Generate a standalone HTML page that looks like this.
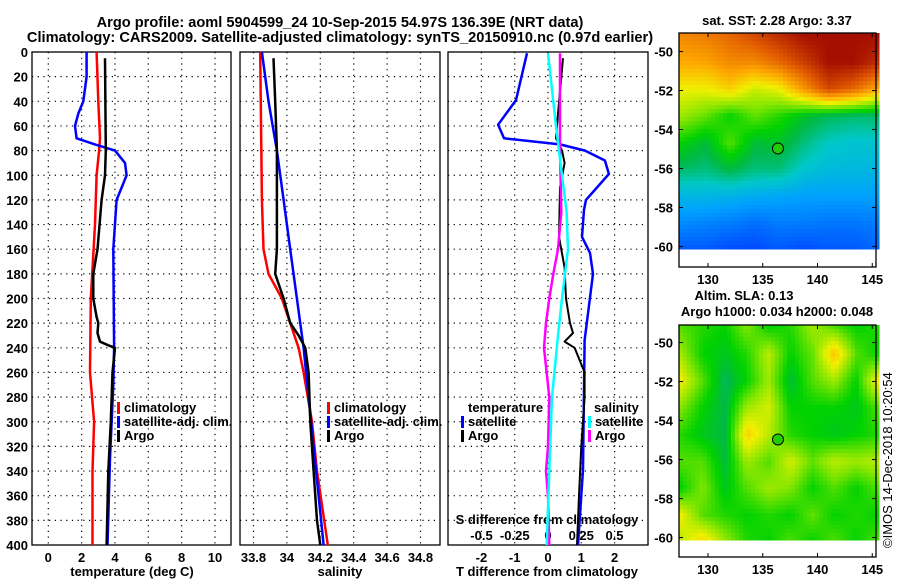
<!DOCTYPE html>
<html><head><meta charset="utf-8">
<style>
body{margin:0;background:#fff;}
svg{display:block;font-family:"Liberation Sans",sans-serif;}
.t{font-weight:bold;font-size:13px;fill:#000;}
.ttl{font-weight:bold;font-size:14.6px;fill:#000;}
</style></head>
<body>
<svg id="fig" width="900" height="580" viewBox="0 0 900 580" xmlns="http://www.w3.org/2000/svg">
<text class="ttl" x="340" y="27" text-anchor="middle">Argo profile: aoml 5904599_24 10-Sep-2015 54.97S 136.39E (NRT data)</text>
<text class="ttl" x="340" y="42" text-anchor="middle">Climatology: CARS2009. Satellite-adjusted climatology: synTS_20150910.nc (0.97d earlier)</text>
<text class="t" x="777" y="25" text-anchor="middle">sat. SST: 2.28 Argo: 3.37</text>
<text class="t" x="744" y="300" text-anchor="middle">Altim. SLA: 0.13</text>
<text class="t" x="777" y="316" text-anchor="middle">Argo h1000: 0.034 h2000: 0.048</text>
<text x="892" y="548" font-size="13" transform="rotate(-90 892 548)">©IMOS 14-Dec-2018 10:20:54</text>
<g id="g"></g>
</svg>
<script>
// ---- depth levels & profile data ----
const tempClimDepth=[0,40,70,80,100,140,200,260,300,340,400];
const tempClim=[2.9,3.0,3.1,3.05,2.9,2.8,2.55,2.5,2.75,2.65,2.65];
const tempSatDepth=[0,20,40,50,60,70,75,80,90,100,110,120,160,240,270,330,400];
const tempSat=[2.3,2.3,2.1,1.8,1.6,1.7,2.8,4.0,4.6,4.7,4.4,4.1,3.9,3.95,3.9,3.7,3.55];
const tempArgoDepth=[5,80,100,120,160,180,200,215,220,228,235,238,240,260,300,340,400];
const tempArgo=[3.4,3.45,3.4,3.2,2.95,2.7,2.7,2.9,3.0,2.95,3.1,3.6,4.0,3.85,3.75,3.6,3.5];
const salClimDepth=[0,120,160,180,200,220,240,260,300,340,400];
const salClim=[33.84,33.85,33.86,33.89,33.97,34.02,34.07,34.1,34.15,34.18,34.245];
const salSatDepth=[0,40,80,120,160,200,240,280,320,360,400];
const salSat=[33.85,33.89,33.94,33.98,34.02,34.06,34.1,34.13,34.16,34.19,34.22];
const salArgoDepth=[5,40,80,140,160,180,200,220,230,240,260,300,340,380,400];
const salArgo=[33.92,33.93,33.94,33.94,33.94,33.93,33.98,34.02,34.07,34.11,34.13,34.14,34.16,34.18,34.2];
const tdSatDepth=[1,39,59,70,75,80,88,99,120,128,150,163,180,234,339,400];
const tdSat=[-0.63,-0.96,-1.5,-1.32,0.36,1.11,1.71,1.83,1.14,1.08,1.02,1.26,1.35,1.1,1.05,0.9];
const tdArgoDepth=[5,50,70,80,90,110,150,175,200,220,228,235,240,260,280,320,360,400];
const tdArgo=[0.45,0.3,0.24,0.42,0.5,0.36,0.33,0.5,0.54,0.66,0.75,0.5,0.8,1.1,1.1,1.0,0.93,0.87];
const sdSatDepth=[1,60,100,130,160,200,230,280,340,400];
const sdSat=[0,0.06,0.105,0.14,0.15,0.105,0.075,0.03,0.01,-0.01];
const sdArgoDepth=[1,80,130,160,180,200,220,240,280,320,340,360,400];
const sdArgo=[0.09,0.09,0.1,0.075,0.04,0.01,-0.015,-0.03,0.01,0.0,-0.015,0.0,0.01];
const depthTicks=[0,20,40,60,80,100,120,140,160,180,200,220,240,260,280,300,320,340,360,380,400];
const tempTicks=[0,2,4,6,8,10];
const salTicks=[33.8,34,34.2,34.4,34.6,34.8];
const tdTicks=[-2,-1,0,1,2];
const sdTicks=[-0.5,-0.25,0,0.25,0.5];
const sdTickLabels=["-0.5","-0.25","0","0.25","0.5"];
const latTicks=[-50,-52,-54,-56,-58,-60];
const lonTicks=[130,135,140,145];
const argoLon=136.39, argoLat=-54.97;
// coarse field grids (colormap index 0..1), rows north->south
const sstGrid=[
[0.8,0.82,0.85,0.9,0.95,1,1,1,1],
[0.75,0.76,0.8,0.8,0.85,0.92,1,1,0.95],
[0.66,0.66,0.7,0.63,0.66,0.78,0.9,0.85,0.75],
[0.6,0.56,0.5,0.56,0.52,0.47,0.44,0.43,0.43],
[0.5,0.46,0.55,0.46,0.47,0.42,0.38,0.37,0.37],
[0.43,0.42,0.45,0.42,0.42,0.37,0.35,0.35,0.34],
[0.34,0.34,0.33,0.32,0.31,0.3,0.3,0.3,0.3],
[0.27,0.26,0.25,0.23,0.25,0.25,0.24,0.24,0.25],
[0.2,0.2,0.18,0.18,0.2,0.18,0.2,0.2,0.22]];
const slaGrid=[
[0.55,0.52,0.5,0.58,0.5,0.52,0.6,0.55,0.5,0.52],
[0.6,0.5,0.48,0.52,0.62,0.5,0.56,0.72,0.55,0.5],
[0.66,0.55,0.44,0.5,0.6,0.46,0.55,0.6,0.5,0.68],
[0.58,0.5,0.45,0.6,0.64,0.5,0.5,0.5,0.48,0.55],
[0.52,0.48,0.45,0.7,0.62,0.52,0.5,0.48,0.5,0.52],
[0.55,0.55,0.46,0.6,0.55,0.64,0.56,0.62,0.6,0.62],
[0.5,0.58,0.48,0.55,0.6,0.58,0.5,0.55,0.5,0.55],
[0.66,0.55,0.52,0.5,0.52,0.5,0.56,0.5,0.52,0.5],
[0.62,0.7,0.6,0.52,0.5,0.55,0.5,0.55,0.5,0.55]];
</script>
<script>
const NS="http://www.w3.org/2000/svg";
const G=document.getElementById('g');
function mk(tag,attrs,parent){const e=document.createElementNS(NS,tag);for(const k in attrs)e.setAttribute(k,attrs[k]);(parent||G).appendChild(e);return e;}
function txt(s,x,y,anchor,cls,name){const e=mk('text',{x:x,y:y,'text-anchor':anchor||'middle','class':cls||'t'});e.textContent=s;


return e;}
const Y0=52,Y1=545;
const yD=d=>Y0+(Y1-Y0)*d/400;
function panel(L,R,xf,ticks,labels,name,ylabels){
 const g=mk('g',{});
 
 
 depthTicks.forEach(d=>{if(d>0&&d<400)mk('line',{x1:L,x2:R,y1:yD(d),y2:yD(d),stroke:'#000','stroke-dasharray':'1.2,4.5','stroke-width':1.2},g);});
 ticks.forEach((v,i)=>{const x=xf(v);mk('line',{x1:x,x2:x,y1:Y0,y2:Y1,stroke:'#000','stroke-dasharray':'1.2,4.5','stroke-width':1.2},g);
  if(labels)txt(labels[i],x,562,'middle','t','x-tick-label');});
 mk('rect',{x:L,y:Y0,width:R-L,height:Y1-Y0,fill:'none',stroke:'#000','stroke-width':1.3},g);
 if(ylabels)depthTicks.forEach(d=>txt(String(d),28,yD(d)+5,'end','t','y-tick-label'));
 return g;}
function line(depths,vals,xf,color,w,name){
 const pts=depths.map((d,i)=>xf(vals[i]).toFixed(1)+','+yD(d).toFixed(1)).join(' ');
 const p=mk('polyline',{points:pts,fill:'none',stroke:color,'stroke-width':w,'stroke-linejoin':'round'});
 
 }
function legend(x,y,items){items.forEach((it,i)=>{mk('rect',{x:x,y:y+i*14-10,width:3,height:12,fill:it[1]});txt(it[0],x+7,y+i*14,'start','t','legend-entry');});}
// panel 1
const xT=v=>48.3+16.67*v;
panel(32,231,xT,tempTicks,tempTicks.map(String),'temperature-panel',true);
line(tempClimDepth,tempClim,xT,'#f00',2.5,'temp-climatology-line');
line(tempSatDepth,tempSat,xT,'#00f',2.5,'temp-satellite-line');
line(tempArgoDepth,tempArgo,xT,'#000',2.5,'temp-argo-line');
legend(117,412,[['climatology','#f00'],['satellite-adj. clim.','#00f'],['Argo','#000']]);
txt('temperature (deg C)',132,576,'middle','t','x-axis-title-temperature');
// panel 2
const xS=v=>253.5+167*(v-33.8);
panel(240,440,xS,salTicks,salTicks.map(String),'salinity-panel',false);
line(salClimDepth,salClim,xS,'#f00',2.5,'sal-climatology-line');
line(salSatDepth,salSat,xS,'#00f',2.5,'sal-satellite-line');
line(salArgoDepth,salArgo,xS,'#000',2.5,'sal-argo-line');
legend(327,412,[['climatology','#f00'],['satellite-adj. clim.','#00f'],['Argo','#000']]);
txt('salinity',340,576,'middle','t','x-axis-title-salinity');
// panel 3
const xTD=v=>548+33.3*v, xSD=v=>548+133*v;
panel(448,648,xTD,tdTicks,tdTicks.map(String),'difference-panel',false);
sdTicks.forEach((v,i)=>txt(sdTickLabels[i],xSD(v),540,'middle','t','s-diff-tick-label'));
txt('S difference from climatology',547,524,'middle','t','s-diff-axis-title');
line(tdSatDepth,tdSat,xTD,'#00f',2.5,'tdiff-satellite-line');
line(tdArgoDepth,tdArgo,xTD,'#000',2,'tdiff-argo-line');
line(sdArgoDepth,sdArgo,xSD,'#f0f',2.5,'sdiff-argo-line');
line(sdSatDepth,sdSat,xSD,'#0ff',2.5,'sdiff-satellite-line');
txt('temperature',468,412,'start','t','legend-title-temperature');
legend(461,426,[['satellite','#00f'],['Argo','#000']]);
txt('salinity',594,412,'start','t','legend-title-salinity');
legend(588,426,[['satellite','#0ff'],['Argo','#f0f']]);
txt('T difference from climatology',547,576,'middle','t','x-axis-title-tdiff');
// colormap
const cstops=[[0,[0,0,140]],[0.15,[0,50,255]],[0.3,[0,160,255]],[0.38,[0,200,200]],[0.45,[0,185,70]],[0.5,[0,210,0]],[0.58,[130,230,0]],[0.66,[240,240,0]],[0.75,[255,170,0]],[0.87,[225,90,0]],[1,[165,15,0]]];
function cmap(v){v=Math.max(0,Math.min(1,v));for(let i=1;i<cstops.length;i++){if(v<=cstops[i][0]){const a=cstops[i-1],b=cstops[i],t=(v-a[0])/(b[0]-a[0]);return 'rgb('+a[1].map((c,k)=>Math.round(c+(b[1][k]-c)*t)).join(',')+')';}}return 'rgb(165,15,0)';}
function sample(grid,u,v){const R=grid.length-1,C=grid[0].length-1;const fy=v*R,fx=u*C;const i=Math.min(R-1,Math.floor(fy)),j=Math.min(C-1,Math.floor(fx));const ty=fy-i,tx=fx-j;
 return grid[i][j]*(1-tx)*(1-ty)+grid[i][j+1]*tx*(1-ty)+grid[i+1][j]*(1-tx)*ty+grid[i+1][j+1]*tx*ty;}
function map(top,dataBottom,bottom,grid,cell,name,latTop){
 const L=679,R=876;const g=mk('g',{});
 
 
 const lonX=lon=>708+(lon-130)*10.95;
 const latY=lat=>top+(latTop-lat)*19.5;
 for(let y=top;y<dataBottom;y+=cell)for(let x=L;x<R;x+=cell){
  const val=sample(grid,(x-L)/(R-L),(y-top)/(dataBottom-top));
  mk('rect',{x:x,y:y,width:cell+0.5,height:Math.min(cell,dataBottom-y)+0.5,fill:cmap(val)},g);}
 mk('rect',{x:L,y:top,width:R-L,height:bottom-top,fill:'none',stroke:'#000','stroke-width':1.3},g);
 lonTicks.forEach(l=>{const x=lonX(l);mk('line',{x1:x,x2:x,y1:top,y2:top+4,stroke:'#000'},g);mk('line',{x1:x,x2:x,y1:bottom,y2:bottom-4,stroke:'#000'},g);});
 latTicks.forEach(l=>{const y=latY(l);mk('line',{x1:L,x2:L+4,y1:y,y2:y,stroke:'#000'},g);mk('line',{x1:R,x2:R-4,y1:y,y2:y,stroke:'#000'},g);txt(String(l),673,y+5,'end','t','lat-tick-label');});
 const c=mk('circle',{cx:lonX(argoLon),cy:latY(argoLat),r:5.5,fill:'#22cc00',stroke:'#000','stroke-width':1},g);
 
 
 return lonX;}
const lx=map(33,249,267,sstGrid,4,'sst-map',-49.05);
lonTicks.forEach(l=>txt(String(l),lx(l),284,'middle','t','lon-tick-label'));
map(325,540,557,slaGrid,4,'sla-map',-49.1);
lonTicks.forEach(l=>txt(String(l),lx(l),574,'middle','t','lon-tick-label'));
</script>
</body></html>
